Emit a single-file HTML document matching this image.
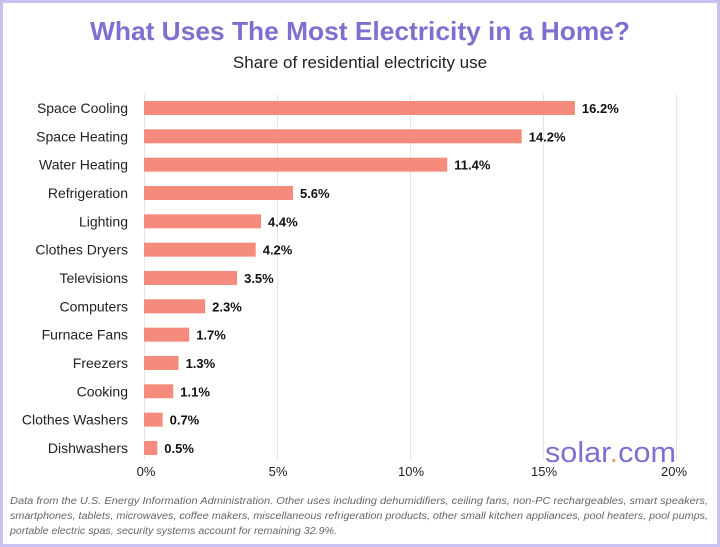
<!DOCTYPE html>
<html><head><meta charset="utf-8"><style>
body{margin:0;width:720px;height:547px;overflow:hidden;background:#fff;font-family:"Liberation Sans",sans-serif}
.frame{position:absolute;left:0;top:0;width:714px;height:541px;border:3px solid #cbc1f0;background:#fff}
.t{position:absolute;white-space:nowrap}
</style></head><body>
<div class="frame"></div>
<svg width="720" height="547" style="position:absolute;left:0;top:0" font-family="Liberation Sans, sans-serif">
<text x="360" y="40" font-size="26" font-weight="bold" fill="#7f6fd0" text-anchor="middle" textLength="540" lengthAdjust="spacingAndGlyphs">What Uses The Most Electricity in a Home?</text>
<text x="360" y="68" font-size="17" fill="#222" text-anchor="middle">Share of residential electricity use</text>
<g stroke="#e6e6e6" stroke-width="1">
<line x1="144.5" y1="94" x2="144.5" y2="460"/><line x1="277.5" y1="94" x2="277.5" y2="460"/><line x1="410.5" y1="94" x2="410.5" y2="460"/><line x1="543.5" y1="94" x2="543.5" y2="460"/><line x1="676.5" y1="94" x2="676.5" y2="460"/>
</g>
<g font-size="13" fill="#222" text-anchor="middle">
<text x="146" y="476">0%</text><text x="278" y="476">5%</text><text x="411" y="476">10%</text><text x="544" y="476">15%</text><text x="674" y="476">20%</text>
</g>
<g id="bars"></g>
<text x="545" y="462" font-size="29" fill="#7f6fd0" textLength="131" lengthAdjust="spacingAndGlyphs">solar<tspan fill="#e8a060">.</tspan>com</text>
<g font-size="10" font-style="italic" fill="#666">
<text x="10" y="504" textLength="698" lengthAdjust="spacingAndGlyphs">Data from the U.S. Energy Information Administration. Other uses including dehumidifiers, ceiling fans, non-PC rechargeables, smart speakers,</text>
<text x="10" y="519" textLength="698" lengthAdjust="spacingAndGlyphs">smartphones, tablets, microwaves, coffee makers, miscellaneous refrigeration products, other small kitchen appliances, pool heaters, pool pumps,</text>
<text x="10" y="534" textLength="327" lengthAdjust="spacingAndGlyphs">portable electric spas, security systems account for remaining 32.9%.</text>
</g>
</svg>
<script>
var d=[["Space Cooling",16.2],["Space Heating",14.2],["Water Heating",11.4],["Refrigeration",5.6],["Lighting",4.4],["Clothes Dryers",4.2],["Televisions",3.5],["Computers",2.3],["Furnace Fans",1.7],["Freezers",1.3],["Cooking",1.1],["Clothes Washers",0.7],["Dishwashers",0.5]];
var s="";d.forEach(function(r,i){var y=108+i*28.33,w=r[1]*26.6;
s+='<rect x="144" y="'+(y-7)+'" width="'+w+'" height="14" fill="#f58b7c"/>';
s+='<text x="128" y="'+(y+5)+'" font-size="14" fill="#222" text-anchor="end">'+r[0]+'</text>';
s+='<text x="'+(144+w+7)+'" y="'+(y+5)+'" font-size="13" font-weight="bold" fill="#111">'+r[1].toFixed(1)+'%</text>';});
document.getElementById("bars").innerHTML=s;
</script>
</body></html>
